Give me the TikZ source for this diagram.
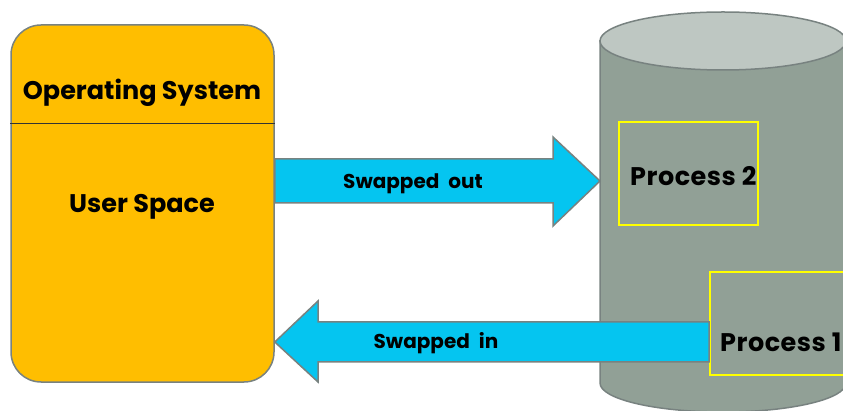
\documentclass[tikz,border=0pt]{standalone}
\usepackage{fontspec}
\setsansfont{Poppins}
\usepackage{tikz}
\usetikzlibrary{positioning}
\definecolor{osorange}{RGB}{255,190,0}
\definecolor{edgegray}{RGB}{120,130,128}
\definecolor{diskbody}{RGB}{145,160,150}
\definecolor{disktop}{RGB}{190,199,194}
\definecolor{swapcyan}{RGB}{5,197,240}
\definecolor{procyellow}{RGB}{255,255,0}

\begin{document}
\begin{tikzpicture}[x=1pt,y=1pt,
   font=\sffamily\bfseries,
   big/.style={font=\sffamily\bfseries\fontsize{25.5}{29}\selectfont,inner sep=0pt},
   proclabel/.style={font=\sffamily\bfseries\fontsize{25.5}{29}\selectfont\addfontfeature{LetterSpace=2},inner sep=0pt,anchor=west},
   small/.style={font={\sffamily\bfseries\fontsize{20}{24}\selectfont\spaceskip=0.45em\relax},inner sep=0pt},
   mem/.style={draw=edgegray,line width=1.5pt,fill=osorange,rounded corners=30pt,minimum width=263pt,minimum height=357pt,inner sep=0pt},
   proc/.style={draw=procyellow,line width=1.5pt,fill=diskbody,minimum width=139pt,minimum height=103pt,inner sep=0pt},
   swap/.style={draw=edgegray,line width=1.5pt,fill=swapcyan},
   disk/.style={draw=edgegray,line width=1.5pt}]
\clip (0,0) rectangle (843,-411);
% disk
\fill[disk,fill=diskbody] (600,-41) -- (600,-383) arc[start angle=180,end angle=360,x radius=123,y radius=29] -- (846,-41) -- cycle;
\draw[disk,fill=disktop] (723,-41) ellipse[x radius=123,y radius=29];
\coordinate (diskin) at (600,-181);
% memory
\node[mem] (mem) at (142.5,-203.5) {};
\draw[black!80,semithick] (mem.west |- 0,-123) -- (mem.east |- 0,-123);
\node[big] (os) at (142,-93) {Operating System};
\node[big] (user) at (142,-207) {User Space};
% processes
\node[proc] (p2) at (688.5,-173.5) {};
\node[proclabel] (p2text) at (630,-176) {Process 2};
% swapping
\draw[swap] (mem.east |- 0,-159) -- (553,-159) -- (553,-137) -- (diskin) -- (553,-226) -- (553,-203) -- (mem.east |- 0,-203) -- cycle;
\node[small] (out) at (413,-184) {Swapped out};
\node[proc,anchor=west] (p1) at (709,-323.5) {};
\node[proclabel] (p1text) at (720,-342) {Process 1};
\draw[swap] (p1.west |- 0,-322) -- (318,-322) -- (318,-301) -- (mem.east |- 0,-342) -- (318,-382) -- (318,-362) -- (p1.west |- 0,-362) -- cycle;
\node[small] (in) at (436,-343) {Swapped in};
\end{tikzpicture}
\end{document}
